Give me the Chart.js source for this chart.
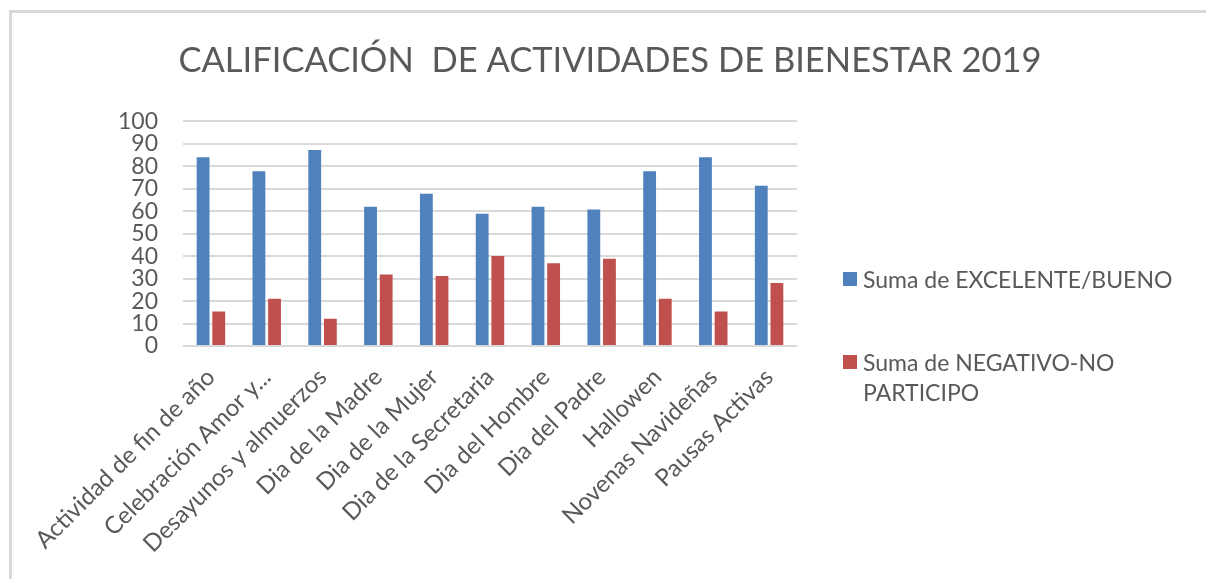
<!DOCTYPE html>
<html>
<head>
<meta charset="utf-8">
<script src="https://cdn.jsdelivr.net/npm/chart.js@4/dist/chart.umd.min.js"></script>
<style>
  html, body { margin: 0; padding: 0; background: #fff; }
  #wrap { position: relative; width: 1206px; height: 579px; overflow: hidden; }
  #frame {
    position: absolute; left: 9px; top: 10px; width: 1400px; height: 800px;
    border-top: 3px solid #d9d9d9; border-left: 3px solid #d9d9d9;
  }
  #legend { position: absolute; left: 843px; top: 0; font-family: Lato, sans-serif; font-size: 23px; color: #595959; }
  .item { position: absolute; left: 0; width: 350px; line-height: 30px; }
  .item .sw { position: absolute; left: 0; top: 8px; width: 14px; height: 14px; }
  .item .tx { display: block; margin-left: 20px; width: 310px; }
</style>
</head>
<body>
<div id="wrap">
  <div id="frame"></div>
  <canvas id="chart" width="1206" height="579"></canvas>
  <div id="legend"></div>
</div>
<script>
const title = "CALIFICACIÓN  DE ACTIVIDADES DE BIENESTAR 2019";
const categories = [
  "Actividad de fin de año",
  "Celebración Amor y...",
  "Desayunos y almuerzos",
  "Dia de la Madre",
  "Dia de la Mujer",
  "Dia de la Secretaria",
  "Dia del Hombre",
  "Dia del Padre",
  "Hallowen",
  "Novenas Navideñas",
  "Pausas Activas"
];
const seriesNames = ["Suma de EXCELENTE/BUENO", "Suma de NEGATIVO-NO PARTICIPO"];
const excelenteBueno = [84, 77.8, 87.3, 62, 67.8, 58.9, 62, 60.8, 77.8, 84, 71.4];
const negativoNoParticipo = [15.4, 21, 12.1, 31.8, 31.2, 40.1, 36.8, 38.8, 21, 15.4, 28.1];
const colors = ["#4f81bd", "#c0504d"];
const yTicks = [0, 10, 20, 30, 40, 50, 60, 70, 80, 90, 100];

const grey = "#595959";

const chart = new Chart(document.getElementById("chart"), {
  type: "bar",
  data: {
    labels: categories,
    datasets: [
      { label: seriesNames[0], data: excelenteBueno, backgroundColor: colors[0] },
      { label: seriesNames[1], data: negativoNoParticipo, backgroundColor: colors[1] }
    ]
  },
  options: {
    responsive: false,
    animation: false,
    layout: { padding: { left: 14, right: 0, top: 0, bottom: 0 } },
    datasets: { bar: { categoryPercentage: 0.56, barPercentage: 0.82 } },
    plugins: {
      legend: { display: false },
      tooltip: { enabled: false },
      title: {
        display: true,
        text: title,
        color: grey,
        font: { family: "Lato", size: 34.5, weight: "normal", lineHeight: 1.2 },
        padding: { top: 40, bottom: 40 }
      }
    },
    scales: {
      x: {
        grid: { display: false },
        border: { display: false },
        ticks: {
          color: grey,
          font: { family: "Lato", size: 24 },
          maxRotation: 45, minRotation: 45,
          autoSkip: false,
          padding: 9
        },
        afterFit: (s) => { s.height = 233; }
      },
      y: {
        min: 0, max: 100,
        afterBuildTicks: (s) => { s.ticks = yTicks.map(v => ({ value: v })); },
        grid: { color: "#d9d9d9", lineWidth: 2, drawTicks: false },
        border: { display: false },
        ticks: { color: grey, font: { family: "Lato", size: 23 }, padding: 25, autoSkip: false },
        afterFit: (s) => { s.width = 169; }
      },
      spacer: {
        type: "linear",
        position: "right",
        display: true,
        grid: { display: false },
        border: { display: false },
        ticks: { display: false },
        afterFit: (s) => { s.width = 409; }
      }
    }
  }
});

// html legend, built from the datasets
const legend = document.getElementById("legend");
const tops = [264, 347];
chart.data.datasets.forEach((ds, i) => {
  const it = document.createElement("div");
  it.className = "item";
  it.style.top = tops[i] + "px";
  it.innerHTML = '<span class="sw" style="background:' + ds.backgroundColor + '"></span><span class="tx"></span>';
  it.querySelector(".tx").textContent = ds.label;
  legend.appendChild(it);
});
</script>
</body>
</html>
